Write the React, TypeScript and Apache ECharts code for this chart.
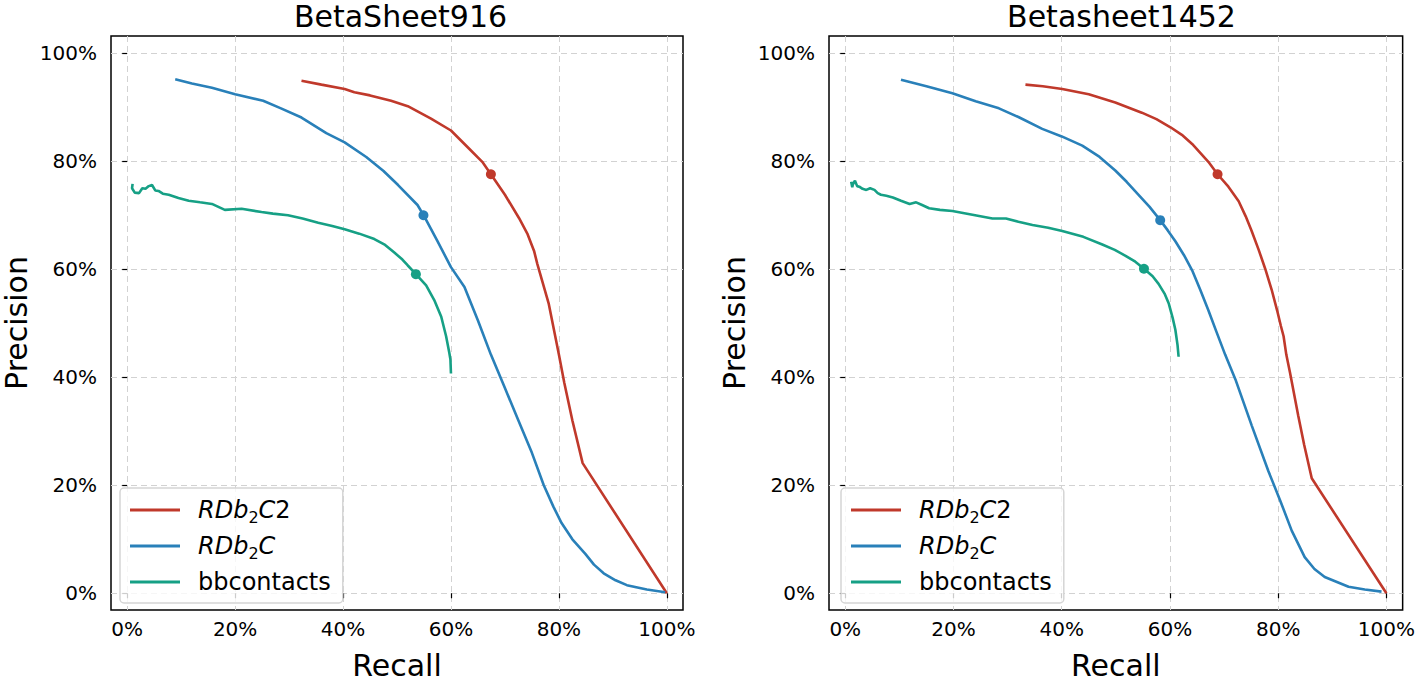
import React, { useEffect, useRef } from "react";
import * as echarts from "echarts";

// ---------- data (percent) ----------
const TITLES = ["BetaSheet916", "Betasheet1452"];
const SERIES_NAMES = ["RDb2C2", "RDb2C", "bbcontacts"];
const COLORS = ["#c0392b", "#2980b9", "#16a085"];
const TICKS = [0, 20, 40, 60, 80, 100];

const L_RDB2C2 = [
  [32.3, 94.9], [36, 94.2], [40.3, 93.4], [42.1, 92.8], [45, 92.2], [48.9, 91.2], [52, 90.2],
  [56.3, 87.9], [60, 85.7], [63.7, 82.0], [65.8, 79.9], [67.4, 77.6], [70, 73.8], [72.6, 69.5],
  [74.2, 66.5], [75.4, 63.4], [76.0, 61.0], [78.1, 53.7], [80.0, 44.2], [81, 39], [82.5, 32],
  [84.4, 24.1], [100, 0],
];
const L_RDB2C = [
  [8.9, 95.2], [12, 94.4], [15.7, 93.6], [20, 92.4], [25.2, 91.2], [28.5, 89.8], [32.3, 88.1],
  [36.9, 85.2], [40.3, 83.5], [44.3, 80.8], [47.5, 78.2], [50.2, 75.6], [53.8, 71.9], [55.0, 69.9],
  [57.5, 65.2], [60.0, 60.4], [62.5, 56.7], [65, 50.5], [67.4, 44.2], [70, 38], [72.5, 32],
  [75, 26], [77.2, 20], [79, 16], [80.5, 13], [82.5, 10], [84.9, 7.3], [86.5, 5.3], [88.3, 3.7],
  [90.5, 2.4], [92.6, 1.5], [96.3, 0.7], [99.7, 0.2],
];
const L_BB = [
  [1.0, 75.8], [0.9, 75.0], [1.4, 74.2], [2.2, 74.1], [2.8, 75.0], [3.4, 74.9], [4.0, 75.4],
  [4.6, 75.6], [5.2, 74.6], [5.8, 74.5], [6.6, 74.0], [7.7, 73.8], [9.5, 73.2], [11.4, 72.7],
  [13.5, 72.4], [15.7, 72.1], [18.1, 71.0], [21.2, 71.2], [24.9, 70.6], [27, 70.3], [29.8, 70.0],
  [32.5, 69.4], [35.4, 68.6], [38, 68.0], [40.3, 67.4], [43, 66.6], [45.8, 65.6], [47.8, 64.5],
  [49.5, 63.1], [51, 61.8], [52, 60.7], [53.5, 59.1], [55.4, 57.0], [56.9, 54.3], [58.2, 51.2],
  [59.1, 47.6], [59.7, 44.5], [59.9, 43.3], [60.0, 40.7],
];
const R_RDB2C2 = [
  [33.3, 94.2], [36.5, 93.9], [40.1, 93.4], [45, 92.4], [49.9, 90.9], [54.8, 89.0], [57.5, 87.8],
  [60.1, 86.3], [62.2, 84.9], [64.1, 83.2], [67.1, 79.9], [68.8, 77.6], [70.8, 75.3], [72.7, 72.6],
  [74, 69.8], [75.1, 67.1], [76.4, 63.6], [77.6, 60.1], [78.8, 56.2], [79.8, 52.4], [80.5, 49.5],
  [81.0, 47.6], [81.5, 44.2], [82.2, 40.8], [83.7, 32.9], [84.8, 27.5], [86.2, 21.3], [100, 0],
];
const R_RDB2C = [
  [10.3, 95.1], [15, 93.9], [19.8, 92.6], [24.1, 91.1], [28.4, 89.8], [32, 88.2], [36.4, 86.0],
  [40, 84.6], [43.8, 82.9], [47, 80.8], [49.9, 78.3], [52, 76.2], [54.2, 73.8], [56.2, 71.6],
  [58.2, 69.1], [59.6, 67.2], [61.0, 65.2], [62.6, 62.6], [64.1, 59.8], [65.6, 56.2], [67.1, 52.4],
  [68.6, 48.4], [70.2, 44.2], [72.1, 39.6], [75.1, 31.1], [78.2, 22.6], [80.4, 17.1],
  [82.5, 11.6], [84.9, 6.7], [86.7, 4.5], [88.6, 3.0], [93.0, 1.2], [96, 0.7], [99.1, 0.3],
];
const R_BB = [
  [1.1, 76.2], [1.3, 75.2], [1.4, 75.7], [1.8, 76.4], [2.2, 75.4], [2.6, 75.3], [3.2, 74.9],
  [3.9, 74.7], [4.6, 75.0], [5.4, 74.7], [6.0, 74.1], [6.6, 73.8], [7.6, 73.6], [8.8, 73.3],
  [10.3, 72.7], [11.9, 72.1], [13.1, 72.4], [14.2, 71.9], [15.5, 71.3], [17.5, 71.0], [19.8, 70.8],
  [23.5, 70.1], [27.2, 69.4], [29.7, 69.4], [32, 68.8], [34.6, 68.2], [37.5, 67.7], [40.1, 67.1],
  [44, 66.0], [47.5, 64.6], [49.8, 63.6], [51.8, 62.5], [53.6, 61.4], [55.2, 60.1], [56.8, 58.7],
  [57.9, 57.3], [59.0, 55.5], [59.8, 53.6], [60.5, 51.0], [61.0, 48.8], [61.4, 46.0], [61.6, 43.8],
];
// operating points (one per curve)
const L_POINTS = [[67.4, 77.6], [54.9, 70.0], [53.5, 59.1]];
const R_POINTS = [[68.8, 77.6], [58.2, 69.1], [55.2, 60.1]];

const PANELS = [
  { curves: [L_RDB2C2, L_RDB2C, L_BB], points: L_POINTS },
  { curves: [R_RDB2C2, R_RDB2C, R_BB], points: R_POINTS },
];

const FONT = "DejaVu Sans";

export default function App() {
  const ref = useRef<HTMLDivElement>(null);
  useEffect(() => {
    if (!ref.current) return;
    const chart = echarts.init(ref.current, null, { renderer: "svg" });
    const gridLefts = [108, 829];
    const gridW = 575;
    const gridTop = 36;
    const gridH = 581;

    const grids = gridLefts.map((l) => ({
      left: l, top: gridTop, width: gridW, height: gridH,
      show: true, borderColor: "#000", borderWidth: 1.5, backgroundColor: "transparent",
    }));
    const axisCommon = (name: string, isX: boolean, idx: number) => ({
      type: "value",
      gridIndex: idx,
      min: isX ? -3 : -3.1,
      max: isX ? 103 : 103.2,
      name,
      nameLocation: "middle",
      nameGap: isX ? 40 : 80,
      nameTextStyle: { fontSize: 30, color: "#000", fontFamily: FONT },
      axisLine: { show: false },
      axisTick: { show: true, inside: false, length: 5, customValues: TICKS, lineStyle: { color: "#000", width: 1.2 } },
      axisLabel: {
        customValues: TICKS, fontSize: 20, color: "#000", fontFamily: FONT, margin: isX ? 9 : 14,
        formatter: (v: number) => `${v}%`,
      },
      splitLine: { show: true, lineStyle: { color: "#d2d2d2", type: [6, 4], width: 1 } },
    });
    const xAxes = [0, 1].map((i) => axisCommon("Recall", true, i));
    const yAxes = [0, 1].map((i) => axisCommon("Precision", false, i));

    const series: any[] = [];
    PANELS.forEach((p, pi) => {
      p.curves.forEach((c, ci) => {
        series.push({
          type: "line", name: SERIES_NAMES[ci], xAxisIndex: pi, yAxisIndex: pi,
          data: c, showSymbol: false, symbol: "none", color: COLORS[ci],
          lineStyle: { width: 2.6, color: COLORS[ci] }, z: 3,
        });
      });
      p.points.forEach((pt, ci) => {
        series.push({
          type: "scatter", name: SERIES_NAMES[ci] + " point", xAxisIndex: pi, yAxisIndex: pi,
          data: [pt], symbolSize: 10, itemStyle: { color: COLORS[ci], opacity: 1 }, z: 4,
        });
      });
    });

    const legendFormatter = (name: string) => {
      if (name === "RDb2C2") return "{i0|RDb}{s|2}{i|C}{n|2}";
      if (name === "RDb2C") return "{i0|RDb}{s|2}{i|C}";
      return "{n0|" + name + "}";
    };
    const base = { fontSize: 24, lineHeight: 30, color: "#000", fontFamily: FONT };
    const rich = {
      n: { ...base },
      n0: { ...base, padding: [0, 0, 0, 13] },
      i: { ...base, fontStyle: "italic" },
      i0: { ...base, fontStyle: "italic", padding: [0, 0, 0, 13] },
      s: { fontSize: 16, lineHeight: 16, color: "#000", fontFamily: FONT, verticalAlign: "bottom" },
    };
    const legends = gridLefts.map((l) => ({
      orient: "vertical", left: l + 12, top: 488,
      data: SERIES_NAMES, icon: "rect", itemWidth: 50, itemHeight: 3, itemGap: 9,
      padding: [10, 12, 9, 10], backgroundColor: "rgba(255,255,255,0.8)",
      borderColor: "#d5d5d5", borderWidth: 1.5, borderRadius: 4,
      selectedMode: false, formatter: legendFormatter,
      textStyle: { fontSize: 24, color: "#000", fontFamily: FONT, rich },
    }));

    chart.setOption({
      animation: false,
      backgroundColor: "#fff",
      textStyle: { fontFamily: FONT },
      title: TITLES.map((t, i) => ({
        text: t, left: gridLefts[i] + gridW / 2, textAlign: "center", top: 0, padding: [1, 5, 5, 5],
        textStyle: { fontSize: 30, fontWeight: "normal", color: "#000", fontFamily: FONT },
      })),
      grid: grids,
      xAxis: xAxes,
      yAxis: yAxes,
      legend: legends,
      series,
    } as any);
    return () => chart.dispose();
  }, []);
  return (
    <div
      ref={ref}
      style={{ position: "fixed", left: 0, top: 0, width: 1418, height: 685, background: "#fff" }}
    />
  );
}
